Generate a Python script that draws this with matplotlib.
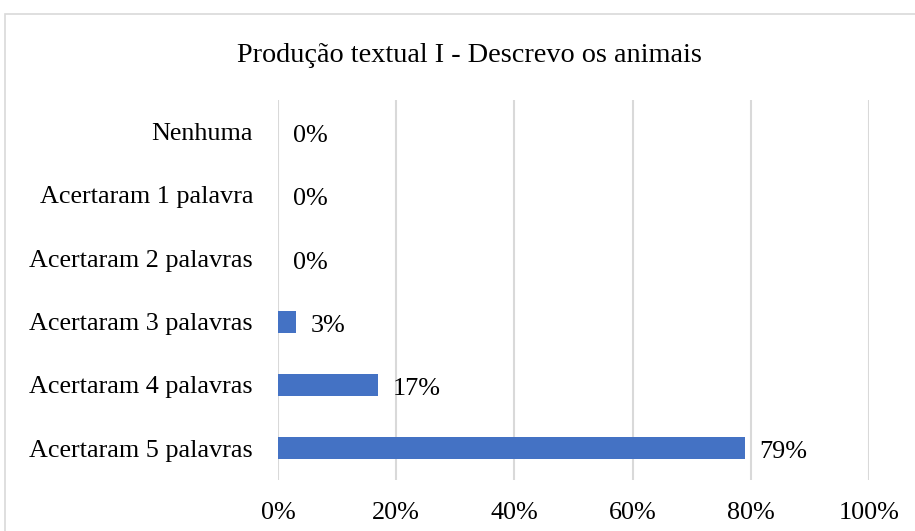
import matplotlib
matplotlib.use('Agg')
import matplotlib.pyplot as plt
from matplotlib.patches import Rectangle

plt.rcParams['font.family'] = ['Liberation Serif', 'DejaVu Serif']

categorias = ['Nenhuma', 'Acertaram 1 palavra', 'Acertaram 2 palavras',
              'Acertaram 3 palavras', 'Acertaram 4 palavras', 'Acertaram 5 palavras']
valores = [0, 0, 0, 3, 17, 79]
ticks = [0, 20, 40, 60, 80, 100]

fig = plt.figure(figsize=(9.15, 5.31), dpi=100)
# moldura do gráfico
fig.patches.append(Rectangle((5 / 915, -0.1), 1.2, 1 - 14 / 531 + 0.1,
                             transform=fig.transFigure, fill=False,
                             edgecolor='#D9D9D9', linewidth=1.2))
ax = fig.add_axes([278 / 915, 1 - 480 / 531, (869 - 278) / 915, (480 - 100) / 531])

y = list(range(len(categorias)))
ax.barh(y, valores, height=0.35, color='#4472C4', zorder=3)
for yi, v in zip(y, valores):
    ax.annotate(f'{v}%', (v, yi), xytext=(10.5, -3), textcoords='offset points',
                va='center', ha='left', fontsize=18.8)

ax.set_xlim(0, 100)
ax.set_ylim(len(categorias) - 0.5, -0.5)
ax.set_yticks(y)
ax.set_yticklabels(categorias, fontsize=18.8)
ax.set_xticks(ticks)
ax.set_xticklabels([f'{t}%' for t in ticks], fontsize=18.8)
ax.tick_params(axis='x', length=0, pad=16)
ax.tick_params(axis='y', length=0, pad=18)
ax.grid(True, axis='x', color='#D9D9D9', linewidth=1.5, zorder=0)
for s in ax.spines.values():
    s.set_visible(False)

fig.text(469 / 915, 1 - 55 / 531, 'Produção textual I - Descrevo os animais',
         ha='center', va='center', fontsize=20.3)

plt.savefig('out.png', dpi=100)
